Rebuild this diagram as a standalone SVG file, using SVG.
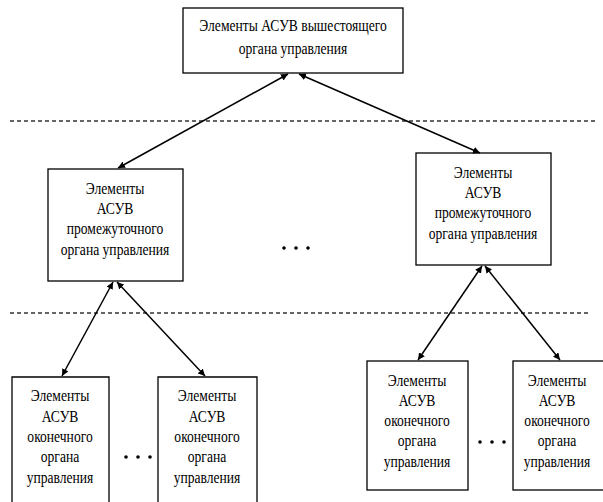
<svg xmlns="http://www.w3.org/2000/svg" width="603" height="502" viewBox="0 0 603 502">
<style>
.box{fill:#fff;stroke:#000;stroke-width:1.3}
.t{font-family:"Liberation Serif","Times New Roman",serif;font-size:17px;text-anchor:middle;fill:#000;transform-box:fill-box;transform-origin:center;transform:scaleX(0.8)}
.dash{stroke:#333;stroke-width:1.3;stroke-dasharray:4,3}
.c{stroke:#000;stroke-width:1.5;fill:none;marker-end:url(#ah);marker-start:url(#ah)}
.dot{fill:#000}
</style>
<defs>
<marker id="ah" viewBox="0 0 10 10" refX="10" refY="5" markerWidth="7" markerHeight="7" markerUnits="userSpaceOnUse" orient="auto-start-reverse"><path d="M0,0 L10,5 L0,10 z" fill="#000"/></marker>
</defs>
<rect width="603" height="502" fill="#fff"/>
<line class="dash" x1="10" y1="121" x2="595" y2="121"/>
<line class="dash" x1="10" y1="313" x2="590" y2="313"/>
<g id="top"><rect class="box" x="183" y="8" width="220" height="65"/>
<text class="t" x="293" y="31">Элементы АСУВ вышестоящего</text>
<text class="t" x="293" y="54">органа управления</text></g>
<g id="midL"><rect class="box" x="48" y="169" width="135" height="112"/>
<text class="t" x="115" y="194">Элементы</text>
<text class="t" x="115" y="214">АСУВ</text>
<text class="t" x="115" y="234">промежуточного</text>
<text class="t" x="115" y="255">органа управления</text></g>
<g id="midR"><rect class="box" x="416" y="153" width="135" height="112"/>
<text class="t" x="483" y="178">Элементы</text>
<text class="t" x="483" y="198">АСУВ</text>
<text class="t" x="483" y="218">промежуточного</text>
<text class="t" x="483" y="239">органа управления</text></g>
<g id="b1"><path class="box" d="M12,503 V377 H109 V503"/>
<text class="t" x="60" y="401">Элементы</text>
<text class="t" x="60" y="422">АСУВ</text>
<text class="t" x="60" y="442">оконечного</text>
<text class="t" x="60" y="462">органа</text>
<text class="t" x="60" y="483">управления</text></g>
<g id="b2"><path class="box" d="M158,503 V377 H257 V503"/>
<text class="t" x="207" y="401">Элементы</text>
<text class="t" x="207" y="422">АСУВ</text>
<text class="t" x="207" y="442">оконечного</text>
<text class="t" x="207" y="462">органа</text>
<text class="t" x="207" y="483">управления</text></g>
<g id="b3"><rect class="box" x="367" y="361" width="101" height="129"/>
<text class="t" x="417" y="386">Элементы</text>
<text class="t" x="417" y="406">АСУВ</text>
<text class="t" x="417" y="426">оконечного</text>
<text class="t" x="417" y="446">органа</text>
<text class="t" x="417" y="467">управления</text></g>
<g id="b4"><rect class="box" x="513" y="361" width="96" height="129"/>
<text class="t" x="557" y="386">Элементы</text>
<text class="t" x="557" y="406">АСУВ</text>
<text class="t" x="557" y="426">оконечного</text>
<text class="t" x="557" y="446">органа</text>
<text class="t" x="557" y="467">управления</text></g>
<g id="dots">
<circle class="dot" cx="284" cy="248" r="1.8"/><circle class="dot" cx="296" cy="248" r="1.8"/><circle class="dot" cx="308" cy="248" r="1.8"/>
<circle class="dot" cx="126" cy="457" r="1.8"/><circle class="dot" cx="138" cy="457" r="1.8"/><circle class="dot" cx="150" cy="457" r="1.8"/>
<circle class="dot" cx="480" cy="442" r="1.8"/><circle class="dot" cx="492" cy="442" r="1.8"/><circle class="dot" cx="504" cy="442" r="1.8"/>
</g>
<g id="connectors">
<line class="c" x1="288" y1="74" x2="118" y2="168"/>
<line class="c" x1="299" y1="74" x2="480" y2="153"/>
<line class="c" x1="113" y1="282" x2="62" y2="376"/>
<line class="c" x1="117" y1="282" x2="205" y2="376"/>
<line class="c" x1="482" y1="266" x2="418" y2="360"/>
<line class="c" x1="485" y1="266" x2="560" y2="360"/>
</g>
</svg>
